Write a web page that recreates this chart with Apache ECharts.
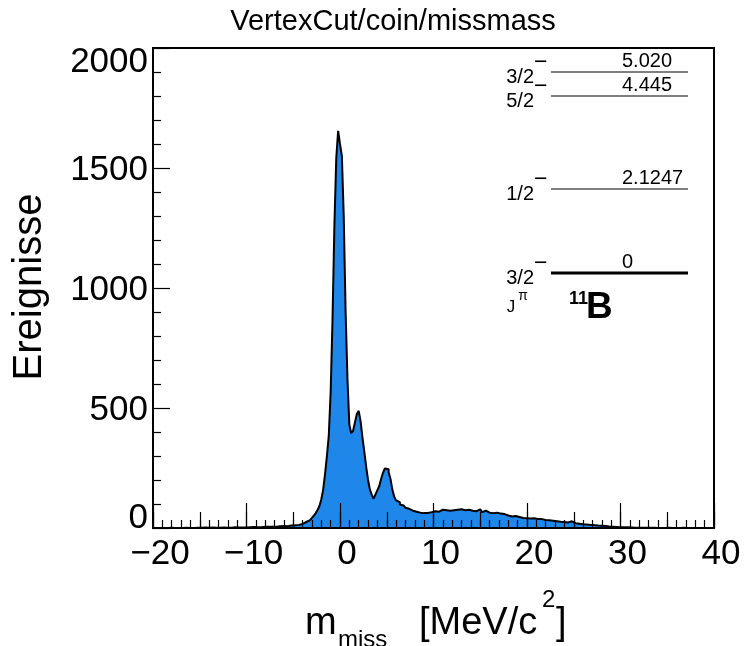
<!DOCTYPE html>
<html>
<head>
<meta charset="utf-8">
<script src="https://cdn.jsdelivr.net/npm/echarts@6/dist/echarts.min.js"></script>
<style>
  html, body { margin: 0; padding: 0; background: #fff; }
  #main { width: 744px; height: 646px; }
</style>
</head>
<body>
<div id="main"></div>
<script>
var chart = echarts.init(document.getElementById('main'))

// histogram binning (MeV)
var binStart = -20
var binWidth = 0.2

// counts per bin (10 bins = 2 MeV per row)
var counts = [
  0, 0, 1, 0, 0, 0, 1, 0, 0, 1,                        // -20 .. -18
  0, 0, 1, 0, 1, 0, 0, 1, 1, 0,                        // -18 .. -16
  1, 0, 1, 1, 0, 1, 1, 2, 0, 1,                        // -16 .. -14
  1, 2, 1, 1, 2, 1, 1, 2, 2, 1,                        // -14 .. -12
  2, 1, 2, 3, 2, 2, 3, 2, 3, 2,                        // -12 .. -10
  3, 3, 2, 4, 3, 3, 4, 3, 4, 5,                        // -10 .. -8
  4, 5, 4, 5, 6, 5, 6, 7, 6, 8,                        // -8 .. -6
  8, 7, 9, 10, 9, 11, 12, 13, 15, 17,                  // -6 .. -4
  22, 25, 28, 33, 36, 42, 52, 62, 75, 92,              // -4 .. -2
  120, 160, 225, 300, 385, 565, 870, 1260, 1540, 1655, // -2 .. 0
  1600, 1550, 1300, 900, 620, 430, 395, 405, 440, 475, // 0 .. 2
  488, 445, 378, 318, 255, 200, 160, 138, 122, 140,    // 2 .. 4
  158, 175, 205, 230, 248, 245, 232, 205, 160, 130,    // 4 .. 6
  115, 108, 98, 94, 88, 84, 80, 76, 72, 70,            // 6 .. 8
  68, 66, 64, 66, 62, 60, 63, 61, 66, 64,              // 8 .. 10
  70, 74, 68, 72, 76, 70, 74, 78, 72, 76,              // 10 .. 12
  74, 80, 76, 72, 78, 82, 74, 78, 76, 80,              // 12 .. 14
  72, 76, 70, 74, 78, 70, 66, 72, 68, 64,              // 14 .. 16
  66, 62, 60, 64, 58, 60, 56, 58, 54, 52,              // 16 .. 18
  50, 48, 47, 50, 45, 46, 44, 42, 44, 41,              // 18 .. 20
  42, 40, 39, 41, 38, 37, 36, 37, 34, 33,              // 20 .. 22
  33, 32, 31, 30, 29, 28, 27, 26, 27, 25,              // 22 .. 24
  24, 23, 22, 28, 21, 20, 19, 18, 17, 16,              // 24 .. 26
  16, 15, 14, 13, 12, 12, 11, 10, 9, 9,                // 26 .. 28
  8, 8, 7, 6, 6, 5, 5, 4, 4, 3,                        // 28 .. 30
  3, 3, 2, 3, 2, 2, 2, 1, 2, 1,                        // 30 .. 32
  1, 1, 2, 1, 1, 1, 0, 1, 1, 0,                        // 32 .. 34
  1, 0, 1, 0, 0, 1, 0, 0, 1, 0,                        // 34 .. 36
  0, 0, 0, 1, 0, 0, 0, 0, 0, 0,                        // 36 .. 38
  0, 0, 0, 0, 0, 0, 0, 0, 0, 0                         // 38 .. 40
]

// level scheme of 11B
var levelEnergies = ['5.020', '4.445', '2.1247', '0']
var levelSpins = ['3/2', '5/2', '1/2', '3/2']

var histData = counts.map(function (v, i) { return [binStart + i * binWidth, v] })
histData.push([binStart + counts.length * binWidth, counts[counts.length - 1]])

var font = 'Liberation Sans, Arial, Helvetica, sans-serif'
var fill = '#1f86ea'

// positions of the level lines (pixels)
var levelY = [72, 96, 189, 273]
var lineX1 = 551, lineX2 = 688

function txt(x, y, s, size, opts) {
  opts = opts || {}
  return {
    type: 'text', x: x, y: y, rotation: opts.rotation || 0,
    style: {
      text: s, font: (opts.bold ? 'bold ' : '') + size + 'px ' + font, fill: '#000',
      textAlign: opts.align || 'left', textVerticalAlign: 'middle'
    }
  }
}

var graphics = []
levelY.forEach(function (y, i) {
  graphics.push({
    type: 'line',
    shape: { x1: lineX1, y1: y, x2: lineX2, y2: y },
    style: { stroke: '#000', lineWidth: i === 3 ? 3 : 1.2 }
  })
  graphics.push(txt(622, y - 11, levelEnergies[i], 20))
  graphics.push(txt(534, y + 5, levelSpins[i], 20, { align: 'right' }))
  graphics.push(txt(534, y - 9, '\u2212', 23))
})
graphics.push(
  txt(511, 307, 'J', 17, { align: 'center' }),
  txt(523, 296, '\u03c0', 14, { align: 'center' }),
  txt(588, 299, '11', 18, { align: 'right', bold: true }),
  txt(586, 308, 'B', 37, { bold: true }),
  // title
  txt(393, 22, 'VertexCut/coin/missmass', 29, { align: 'center' }),
  // y title
  txt(30, 287, 'Ereignisse', 40, { align: 'center', rotation: Math.PI / 2 }),
  // x title
  txt(305, 624, 'm', 38),
  txt(338, 640, 'miss', 24),
  txt(419, 624, '[MeV/c', 38),
  txt(542, 600, '2', 24),
  txt(556, 624, ']', 38)
)

var option = {
  animation: false,
  backgroundColor: '#fff',
  grid: {
    left: 153, right: 30, top: 48, bottom: 118,
    show: true, borderColor: '#000', borderWidth: 2, backgroundColor: 'transparent'
  },
  xAxis: [{
    type: 'value', min: -20, max: 40, interval: 10, z: 5,
    axisLine: { show: true, onZero: false, lineStyle: { color: '#000', width: 2 } },
    axisTick: { inside: true, length: 25, lineStyle: { color: '#000', width: 1.2 } },
    minorTick: { show: true, splitNumber: 10, length: 8, lineStyle: { color: '#000', width: 1.2 } },
    splitLine: { show: false },
    axisLabel: {
      color: '#000', fontSize: 35, fontFamily: font, margin: 9, padding: [0, 0, 0, 14],
      formatter: function (v) { return String(v).replace('-', '\u2212') }
    }
  }, {
    type: 'value', min: -20, max: 40, interval: 5, z: 5, position: 'bottom',
    axisLine: { show: false, onZero: false },
    axisTick: { inside: true, length: 16, lineStyle: { color: '#000', width: 1.2 } },
    splitLine: { show: false },
    axisLabel: { show: false }
  }],
  yAxis: {
    type: 'value', min: 0, max: 2000, interval: 500, z: 5,
    axisLine: { show: true, onZero: false, lineStyle: { color: '#000', width: 2 } },
    axisTick: { inside: true, length: 17, lineStyle: { color: '#000', width: 1.2 } },
    minorTick: { show: true, splitNumber: 5, length: 8, lineStyle: { color: '#000', width: 1.2 } },
    splitLine: { show: false },
    axisLabel: {
      color: '#000', fontSize: 35, fontFamily: font, margin: 5,
      formatter: function (v) {
        if (v === 0) return '{bot|0}'
        if (v === 2000) return '{top|2000}'
        return '{mid|' + v + '}'
      },
      rich: {
        bot: { fontSize: 35, fontFamily: font, color: '#000', padding: [0, 0, 20, 0] },
        top: { fontSize: 35, fontFamily: font, color: '#000', padding: [28, 0, 0, 0] },
        mid: { fontSize: 35, fontFamily: font, color: '#000', padding: [4, 0, 0, 0] }
      }
    }
  },
  series: [{
    type: 'line',
    xAxisIndex: 0,
    step: 'end',
    symbol: 'none',
    data: histData,
    lineStyle: { color: '#000', width: 2 },
    areaStyle: { color: fill, opacity: 1 }
  }],
  graphic: graphics
}

chart.setOption(option)
</script>
</body>
</html>
